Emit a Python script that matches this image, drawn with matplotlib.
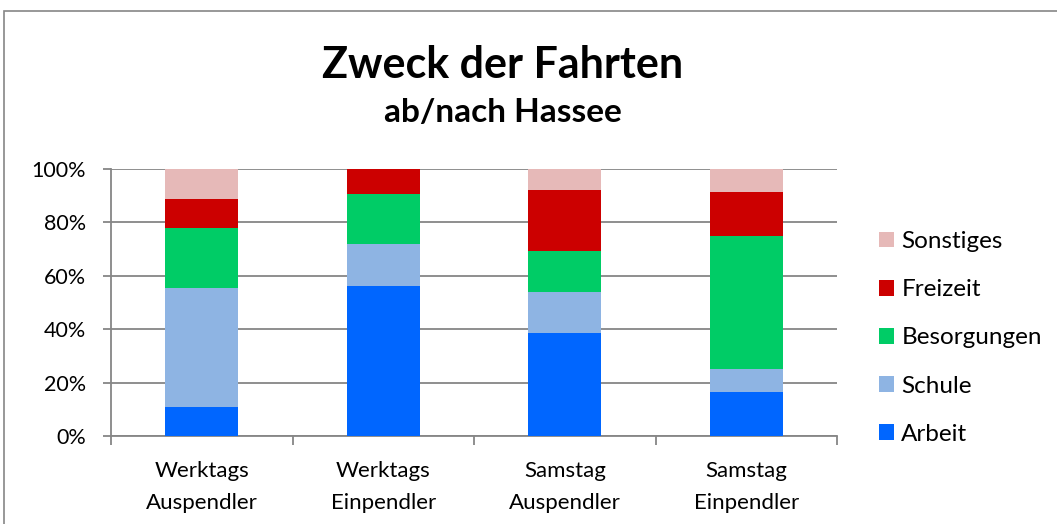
import matplotlib
matplotlib.use("Agg")
import matplotlib.pyplot as plt
from matplotlib.patches import Rectangle, Patch
from matplotlib.ticker import FuncFormatter, FixedLocator
import numpy as np

plt.rcParams['font.family'] = ['Lato', 'DejaVu Sans']

categories = ["Werktags\nAuspendler", "Werktags\nEinpendler", "Samstag\nAuspendler", "Samstag\nEinpendler"]
series_names = ["Arbeit", "Schule", "Besorgungen", "Freizeit", "Sonstiges"]
arbeit = [10.9, 56.2, 38.4, 16.5]
schule = [44.7, 15.7, 15.5, 8.5]
besorgungen = [22.2, 18.8, 15.4, 49.9]
freizeit = [11.1, 9.3, 22.9, 16.6]
sonstiges = [11.1, 0.0, 7.8, 8.5]
colors = ["#0066FF", "#8EB4E3", "#00CC66", "#CC0000", "#E6B9B8"]

W, H = 1057, 524
fig = plt.figure(figsize=(W / 100, H / 100), dpi=100)

# outer chart border
fig.patches.append(Rectangle((4 / W, -0.05), 1.1, 1 - 11 / H + 0.05, transform=fig.transFigure,
                             fill=False, edgecolor="#868686", linewidth=1.2))

ax = fig.add_axes([111 / W, (H - 436) / H, (837 - 111) / W, (436 - 169) / H])
x = np.arange(len(categories))
data = [arbeit, schule, besorgungen, freizeit, sonstiges]
bottom = np.zeros(len(categories))
handles = []
for name, vals, col in zip(series_names, data, colors):
    ax.bar(x, vals, width=0.4, bottom=bottom, color=col, edgecolor="none", zorder=3, label=name)
    bottom += np.array(vals)
    handles.append(Patch(facecolor=col, label=name))

ax.set_xlim(-0.5, len(categories) - 0.5)
ax.set_ylim(0, 100)
ax.set_yticks(np.arange(0, 101, 20))
ax.yaxis.set_major_formatter(FuncFormatter(lambda v, p: f"{int(v)}%"))
ax.yaxis.grid(True, color="#868686", linewidth=1.3, zorder=0)
ax.set_axisbelow(True)
ax.set_xticks(x)
ax.set_xticklabels(categories, fontsize=16)
for lbl in ax.get_xticklabels():
    lbl.set_linespacing(1.75)
ax.xaxis.set_minor_locator(FixedLocator(np.arange(-0.5, len(categories), 1.0)))
ax.tick_params(axis='x', which='major', length=0, pad=18)
ax.tick_params(axis='x', which='minor', length=6.5, color="#868686", width=1.3)
ax.tick_params(axis='y', length=6, color="#868686", width=1.3, labelsize=15.5, pad=12)
for s in ["top", "right"]:
    ax.spines[s].set_visible(False)
for s in ["left", "bottom"]:
    ax.spines[s].set_color("#868686")
    ax.spines[s].set_linewidth(1.3)

fig.text(503 / W, 1 - 78 / H, "Zweck der Fahrten", ha="center", va="baseline",
         fontsize=31, fontweight="bold")
fig.text(503 / W, 1 - 122 / H, "ab/nach Hassee", ha="center", va="baseline",
         fontsize=24, fontweight="bold")

leg = fig.legend(handles=handles[::-1], loc="upper left", bbox_to_anchor=(879 / W, 1 - 231 / H),
                 frameon=False, fontsize=17.5, handlelength=0.62, handleheight=0.62,
                 handletextpad=0.3, labelspacing=1.12, borderaxespad=0, borderpad=0)

fig.savefig("out.png", dpi=100)
